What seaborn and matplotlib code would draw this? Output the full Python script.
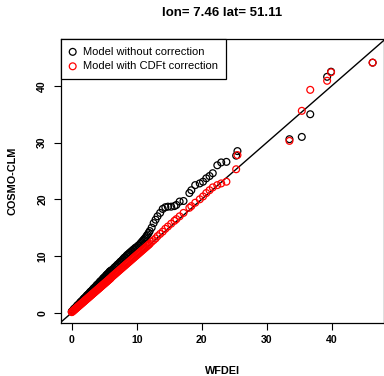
import matplotlib
matplotlib.use("Agg")
import matplotlib.pyplot as plt
import seaborn as sns

sns.set_style("ticks")
plt.rcParams["font.family"] = ["Liberation Sans", "DejaVu Sans"]
plt.rcParams["text.color"] = "black"
plt.rcParams["axes.labelcolor"] = "black"
plt.rcParams["xtick.color"] = "black"
plt.rcParams["ytick.color"] = "black"

# quantiles (WFDEI on x), in three stretches
wfdei_low = [0.0, 0.1, 0.2, 0.3, 0.4, 0.5, 0.6, 0.7, 0.8, 0.9, 1.0, 1.1, 1.2,
             1.3, 1.4, 1.5, 1.6, 1.7, 1.8, 1.9, 2.0, 2.1, 2.2, 2.3, 2.4, 2.5,
             2.6, 2.7, 2.8, 2.9, 3.0, 3.1, 3.2, 3.3, 3.4, 3.5, 3.6, 3.7, 3.8,
             3.9, 4.0, 4.1, 4.2, 4.3, 4.4, 4.5, 4.6, 4.7, 4.8, 4.9, 5.0, 5.1,
             5.2, 5.3, 5.4, 5.5, 5.6, 5.7, 5.8, 5.9, 6.0]
raw_low = [0.2, 0.3, 0.4, 0.6, 0.7, 0.8, 0.9, 1.0, 1.2, 1.3, 1.4, 1.5, 1.6,
           1.8, 1.9, 2.0, 2.1, 2.2, 2.4, 2.5, 2.6, 2.7, 2.8, 3.0, 3.1, 3.2,
           3.3, 3.4, 3.6, 3.7, 3.8, 3.9, 4.0, 4.2, 4.3, 4.4, 4.5, 4.6, 4.8,
           4.9, 5.0, 5.1, 5.2, 5.4, 5.5, 5.6, 5.7, 5.8, 6.0, 6.1, 6.2, 6.3,
           6.4, 6.6, 6.7, 6.8, 6.9, 7.0, 7.2, 7.3, 7.4]
cdft_low = [0.1, 0.2, 0.3, 0.4, 0.5, 0.6, 0.7, 0.8, 0.9, 1.0, 1.1, 1.2, 1.3,
            1.4, 1.5, 1.6, 1.7, 1.8, 1.9, 2.0, 2.1, 2.2, 2.3, 2.4, 2.5, 2.6,
            2.7, 2.8, 2.9, 3.0, 3.1, 3.2, 3.3, 3.4, 3.5, 3.6, 3.7, 3.8, 3.9,
            4.0, 4.1, 4.2, 4.3, 4.4, 4.5, 4.6, 4.7, 4.8, 4.9, 5.0, 5.1, 5.2,
            5.3, 5.4, 5.5, 5.6, 5.7, 5.8, 5.9, 6.0, 6.1]

wfdei_mid = [6.15, 6.3, 6.45, 6.6, 6.75, 6.9, 7.05, 7.2, 7.35, 7.5, 7.65,
             7.8, 7.95, 8.1, 8.25, 8.4, 8.55, 8.7, 8.85, 9.0, 9.15, 9.3, 9.45,
             9.6, 9.75, 9.9, 10.05, 10.2, 10.35, 10.5, 10.65, 10.8, 10.95,
             11.1, 11.25, 11.4, 11.55, 11.7, 11.85, 12.0]
raw_mid = [7.5, 7.6, 7.8, 8.0, 8.1, 8.3, 8.5, 8.6, 8.8, 9.0, 9.1, 9.3, 9.5,
           9.7, 9.8, 10.0, 10.2, 10.3, 10.5, 10.6, 10.8, 10.9, 11.1, 11.2,
           11.4, 11.5, 11.6, 11.8, 11.9, 12.1, 12.3, 12.5, 12.7, 12.9, 13.1,
           13.3, 13.6, 13.8, 14.1, 14.4]
cdft_mid = [6.3, 6.45, 6.6, 6.75, 6.9, 7.05, 7.2, 7.35, 7.5, 7.65, 7.8, 7.95,
            8.1, 8.25, 8.4, 8.55, 8.7, 8.85, 9.0, 9.15, 9.3, 9.45, 9.6, 9.75,
            9.9, 10.05, 10.2, 10.35, 10.5, 10.65, 10.8, 10.95, 11.1, 11.25,
            11.4, 11.55, 11.7, 11.85, 12.0, 12.15]

wfdei_high = [12.3, 12.6, 12.9, 13.2, 13.6, 14.0, 14.4, 14.8, 15.3, 15.8,
              16.1, 16.6, 17.2, 18.1, 18.4, 19.0, 19.7, 20.2, 20.7, 21.2,
              21.7, 22.4, 23.0, 23.8, 25.3, 25.5, 33.5, 35.4, 36.7, 39.3,
              39.9, 46.3]
raw_high = [15.0, 15.8, 16.4, 17.0, 17.6, 18.3, 18.6, 18.7, 18.7, 18.8, 19.0,
            19.6, 19.7, 21.1, 21.6, 22.5, 22.8, 23.1, 23.7, 24.1, 24.6, 26.0,
            26.5, 26.6, 27.7, 28.5, 30.6, 31.0, 35.0, 41.6, 42.5, 44.1]
cdft_high = [12.5, 12.8, 13.1, 13.5, 13.9, 14.3, 14.8, 15.2, 15.7, 16.2, 16.5,
             17.0, 17.6, 18.5, 18.8, 19.4, 20.0, 20.5, 21.1, 21.6, 22.1, 22.5,
             22.8, 23.1, 25.3, 27.8, 30.3, 35.6, 39.3, 40.9, 42.4, 44.1]

wfdei = wfdei_low + wfdei_mid + wfdei_high
model_raw = raw_low + raw_mid + raw_high
model_cdft = cdft_low + cdft_mid + cdft_high

fig = plt.figure(figsize=(3.84, 3.76), dpi=100)
ax = fig.add_axes([0.1589, 0.1418, 0.8411, 0.7545])

sns.scatterplot(x=wfdei, y=model_raw, ax=ax, marker="o", s=24,
                facecolors="none", edgecolor="black", linewidth=0.9,
                label="Model without correction", zorder=2)
sns.scatterplot(x=wfdei, y=model_cdft, ax=ax, marker="o", s=24,
                facecolors="none", edgecolor="red", linewidth=0.9,
                label="Model with CDFt correction", zorder=3.5)
ax.axline((0, 0), slope=1, color="black", lw=1, zorder=3)

ax.set_xlim(-1.65, 48.05)
ax.set_ylim(-1.76, 48.27)
ax.set_xticks([0, 10, 20, 30, 40])
ax.set_yticks([0, 10, 20, 30, 40])
ax.tick_params(axis="both", direction="out", length=5, width=0.8,
               labelsize=7.6, color="black")
ax.tick_params(axis="x", pad=4)
ax.tick_params(axis="y", pad=5)
for lab in ax.get_xticklabels() + ax.get_yticklabels():
    lab.set_fontweight("bold")
for lab in ax.get_yticklabels():
    lab.set_rotation(90)
    lab.set_va("center")
for sp in ax.spines.values():
    sp.set_visible(True)
    sp.set_linewidth(0.9)
    sp.set_color("black")

ax.set_xlabel("WFDEI", fontsize=7.8, fontweight="bold", labelpad=15)
ax.set_ylabel("COSMO-CLM", fontsize=7.8, fontweight="bold", labelpad=14)
fig.text(0.579, 0.966, "lon= 7.46 lat= 51.11", ha="center", va="center",
         fontsize=9.5, fontweight="bold")

leg = ax.legend(loc="upper left", borderaxespad=0, fontsize=8.0,
                fancybox=False, frameon=True, edgecolor="black",
                framealpha=1, handlelength=0.7, handletextpad=0.6,
                borderpad=0.7, labelspacing=0.4, markerscale=1)
leg.get_frame().set_linewidth(0.9)
leg.set_zorder(5)

fig.savefig("out.png", dpi=100)
